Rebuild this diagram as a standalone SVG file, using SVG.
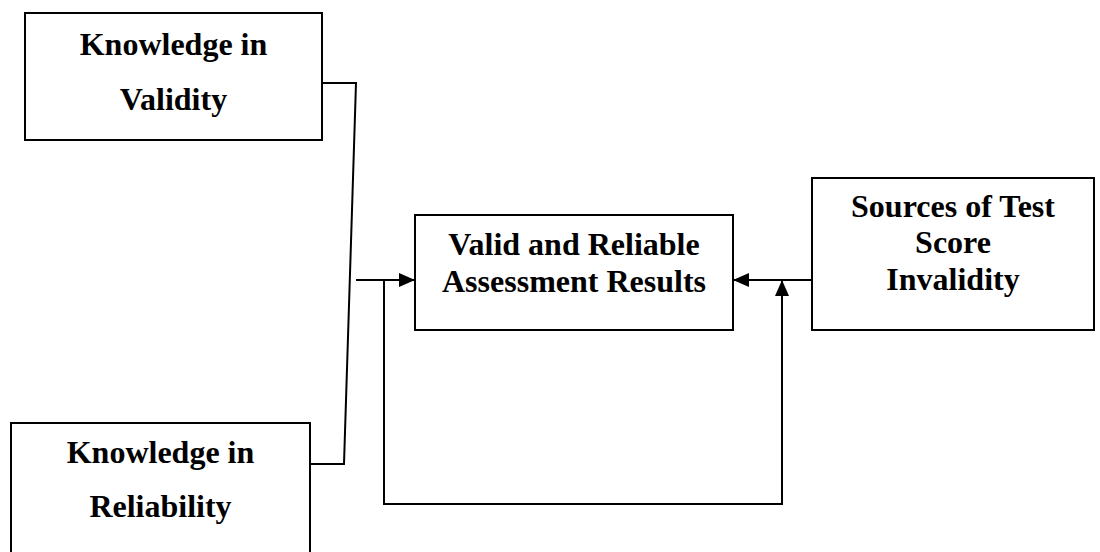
<svg xmlns="http://www.w3.org/2000/svg" width="1100" height="552" viewBox="0 0 1100 552">
  <style>
    .box { fill: #ffffff; stroke: #000000; stroke-width: 2; }
    .wire { fill: none; stroke: #000000; stroke-width: 2; }
    .label { font-family: "Liberation Serif", "Times New Roman", serif; font-weight: bold; font-size: 32px; fill: #000000; text-anchor: middle; }
  </style>
  <defs>
    <marker id="arrow" viewBox="0 0 16 14" refX="16" refY="7" markerWidth="16" markerHeight="14" markerUnits="userSpaceOnUse" orient="auto">
      <path d="M0,0 L16,7 L0,14 Z" fill="#000000"/>
    </marker>
  </defs>
  <rect width="1100" height="552" fill="#ffffff"/>

  <g id="connectors">
    <!-- validity and reliability knowledge joined into one feed -->
    <polyline class="wire" points="322,83 356,83 344,464 310,464"/>
    <!-- feed into the results box -->
    <line class="wire" x1="356" y1="280" x2="415" y2="280" marker-end="url(#arrow)"/>
    <!-- feedback loop under the results box -->
    <polyline class="wire" points="384,280 384,504 782,504 782,280" marker-end="url(#arrow)"/>
    <!-- invalidity sources into the results box -->
    <line class="wire" x1="812" y1="280" x2="733" y2="280" marker-end="url(#arrow)"/>
  </g>

  <g id="knowledge-validity">
    <rect class="box" x="25" y="13" width="297" height="127"/>
    <text class="label" x="173.5" y="55">Knowledge in</text>
    <text class="label" x="173.5" y="110">Validity</text>
  </g>

  <g id="knowledge-reliability">
    <rect class="box" x="11" y="423" width="299" height="140"/>
    <text class="label" x="160.5" y="463">Knowledge in</text>
    <text class="label" x="160.5" y="517">Reliability</text>
  </g>

  <g id="assessment-results">
    <rect class="box" x="415" y="215" width="318" height="115"/>
    <text class="label" x="574" y="255">Valid and Reliable</text>
    <text class="label" x="574" y="292">Assessment Results</text>
  </g>

  <g id="invalidity-sources">
    <rect class="box" x="812" y="178" width="282" height="152"/>
    <text class="label" x="953" y="217">Sources of Test</text>
    <text class="label" x="953" y="253">Score</text>
    <text class="label" x="953" y="290">Invalidity</text>
  </g>
</svg>
